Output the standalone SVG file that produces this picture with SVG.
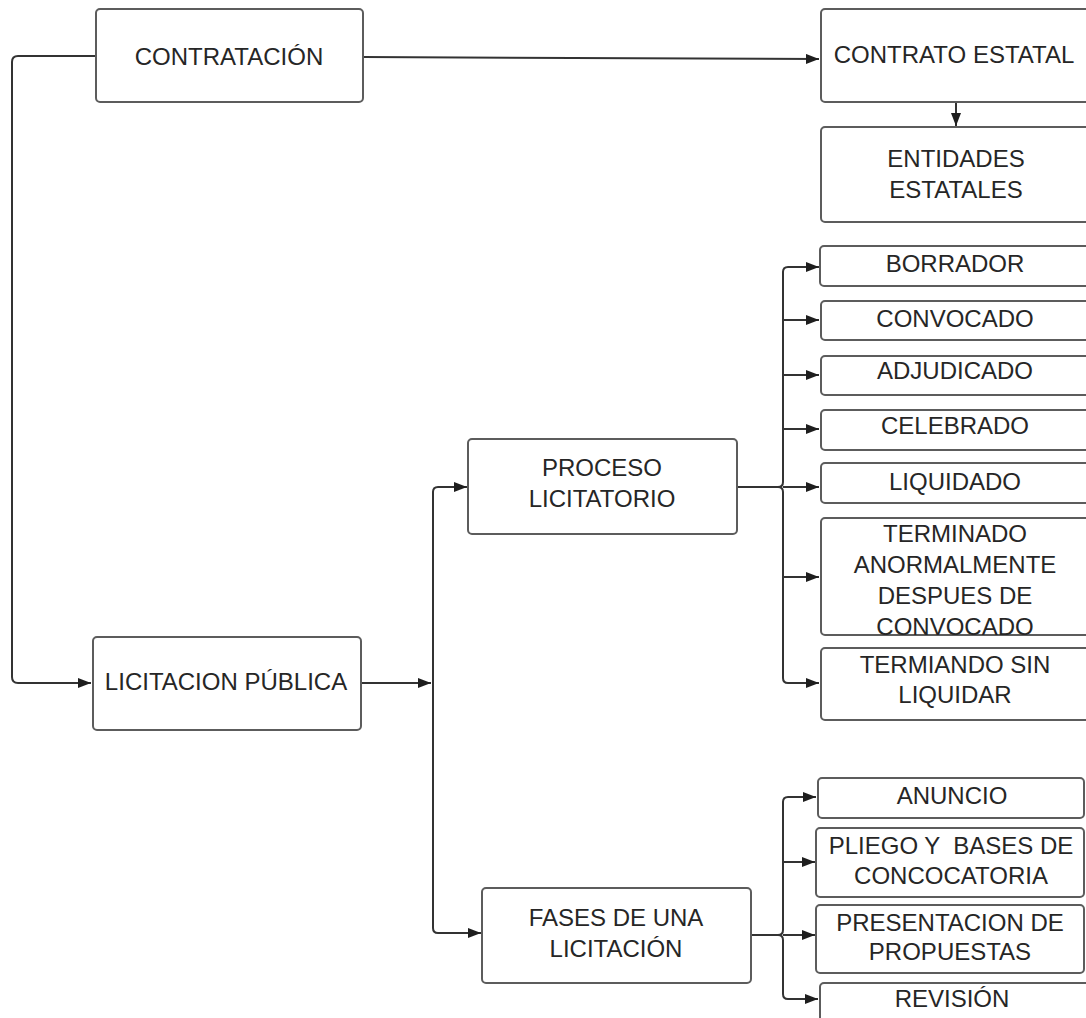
<svg xmlns="http://www.w3.org/2000/svg" width="1086" height="1018" viewBox="0 0 1086 1018">
  <style>
    .box { fill: #ffffff; stroke: #5c5c5c; stroke-width: 2; }
    .lbl { font-family: "Liberation Sans", Arial, sans-serif; font-size: 24px; fill: #262626; text-anchor: middle; white-space: pre; }
    .wire { fill: none; stroke: #333333; stroke-width: 2; }
  </style>
  <defs>
    <marker id="head" markerUnits="userSpaceOnUse" markerWidth="14" markerHeight="11" refX="13" refY="5" orient="auto">
      <path d="M0,0 L13,5 L0,10 Z" fill="#1e1e1e"/>
    </marker>
  </defs>
  <rect width="1086" height="1018" fill="#ffffff"/>

  <g id="connectors">
    <path class="wire" d="M363,57 L819,59" marker-end="url(#head)"/>
    <path class="wire" d="M96,56 H18 Q12,56 12,62 V677 Q12,683 18,683 H91" marker-end="url(#head)"/>
    <path class="wire" d="M956,102 V126" marker-end="url(#head)"/>
    <path class="wire" d="M361,683 H431" marker-end="url(#head)"/>
    <path class="wire" d="M433,683 V492 Q433,487 438,487 H467" marker-end="url(#head)"/>
    <path class="wire" d="M433,683 V928 Q433,933 438,933 H481" marker-end="url(#head)"/>
    <!-- PROCESO LICITATORIO branches -->
    <path class="wire" d="M737,487 H778 Q783,487 783,482 V272 Q783,267 788,267 H819" marker-end="url(#head)"/>
    <path class="wire" d="M737,487 H778 Q783,487 783,492 V678 Q783,683 788,683 H819" marker-end="url(#head)"/>
    <path class="wire" d="M783,487 H819" marker-end="url(#head)"/>
    <path class="wire" d="M783,320 H819" marker-end="url(#head)"/>
    <path class="wire" d="M783,375 H819" marker-end="url(#head)"/>
    <path class="wire" d="M783,429 H819" marker-end="url(#head)"/>
    <path class="wire" d="M783,577 H819" marker-end="url(#head)"/>
    <!-- FASES DE UNA LICITACIÓN branches -->
    <path class="wire" d="M751,935 H778 Q783,935 783,930 V802 Q783,797 788,797 H816" marker-end="url(#head)"/>
    <path class="wire" d="M751,935 H778 Q783,935 783,940 V994 Q783,999 788,999 H818" marker-end="url(#head)"/>
    <path class="wire" d="M783,862 H815" marker-end="url(#head)"/>
    <path class="wire" d="M783,935 H815" marker-end="url(#head)"/>
  </g>

  <g id="contratacion">
    <rect class="box" x="96" y="9" width="267" height="93" rx="4"/>
    <text class="lbl" x="229" y="65">CONTRATACIÓN</text>
  </g>
  <g id="contrato-estatal">
    <rect class="box" x="821" y="9" width="272" height="93" rx="4"/>
    <text class="lbl" x="954" y="63">CONTRATO ESTATAL</text>
  </g>
  <g id="entidades-estatales">
    <rect class="box" x="821" y="127" width="272" height="95" rx="4"/>
    <text class="lbl" x="956" y="167">ENTIDADES</text>
    <text class="lbl" x="956" y="197.5">ESTATALES</text>
  </g>
  <g id="licitacion-publica">
    <rect class="box" x="93" y="637" width="268" height="93" rx="4"/>
    <text class="lbl" x="226" y="690">LICITACION PÚBLICA</text>
  </g>
  <g id="proceso-licitatorio">
    <rect class="box" x="468" y="439" width="269" height="95" rx="4"/>
    <text class="lbl" x="602" y="476">PROCESO</text>
    <text class="lbl" x="602" y="507">LICITATORIO</text>
  </g>
  <g id="fases-licitacion">
    <rect class="box" x="482" y="888" width="269" height="95" rx="4"/>
    <text class="lbl" x="616" y="926">FASES DE UNA</text>
    <text class="lbl" x="616" y="957">LICITACIÓN</text>
  </g>

  <g id="borrador">
    <rect class="box" x="820" y="246" width="272" height="40" rx="4"/>
    <text class="lbl" x="955" y="272">BORRADOR</text>
  </g>
  <g id="convocado">
    <rect class="box" x="821" y="301" width="272" height="39" rx="4"/>
    <text class="lbl" x="955" y="327">CONVOCADO</text>
  </g>
  <g id="adjudicado">
    <rect class="box" x="821" y="356" width="272" height="39" rx="4"/>
    <text class="lbl" x="955" y="379">ADJUDICADO</text>
  </g>
  <g id="celebrado">
    <rect class="box" x="821" y="410" width="272" height="40" rx="4"/>
    <text class="lbl" x="955" y="434">CELEBRADO</text>
  </g>
  <g id="liquidado">
    <rect class="box" x="821" y="463" width="272" height="40" rx="4"/>
    <text class="lbl" x="955" y="490">LIQUIDADO</text>
  </g>
  <g id="terminado-anormalmente">
    <rect class="box" x="821" y="518" width="272" height="117" rx="4"/>
    <text class="lbl" x="955" y="542">TERMINADO</text>
    <text class="lbl" x="955" y="572.5">ANORMALMENTE</text>
    <text class="lbl" x="955" y="604">DESPUES DE</text>
    <text class="lbl" x="955" y="635">CONVOCADO</text>
  </g>
  <g id="terminando-sin-liquidar">
    <rect class="box" x="821" y="648" width="272" height="72" rx="4"/>
    <text class="lbl" x="955" y="673">TERMIANDO SIN</text>
    <text class="lbl" x="955" y="703">LIQUIDAR</text>
  </g>

  <g id="anuncio">
    <rect class="box" x="818" y="778" width="266" height="40" rx="4"/>
    <text class="lbl" x="952" y="804">ANUNCIO</text>
  </g>
  <g id="pliego-bases">
    <rect class="box" x="816" y="828" width="268" height="69" rx="4"/>
    <text class="lbl" x="951" y="854">PLIEGO Y  BASES DE</text>
    <text class="lbl" x="951" y="884">CONCOCATORIA</text>
  </g>
  <g id="presentacion-propuestas">
    <rect class="box" x="816" y="905" width="268" height="68" rx="4"/>
    <text class="lbl" x="950" y="931">PRESENTACION DE</text>
    <text class="lbl" x="950" y="960">PROPUESTAS</text>
  </g>
  <g id="revision">
    <rect class="box" x="820" y="983" width="272" height="60" rx="4"/>
    <text class="lbl" x="952" y="1007">REVISIÓN</text>
  </g>
</svg>
